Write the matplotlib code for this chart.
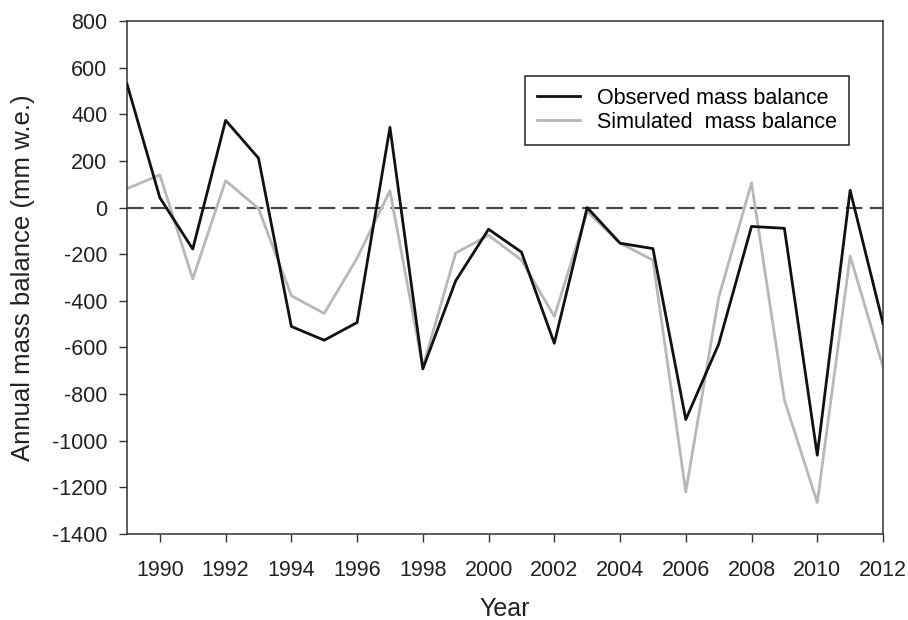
import matplotlib
matplotlib.use("Agg")
import matplotlib.pyplot as plt

years = list(range(1989, 2013))
observed = [530, 42, -178, 374, 212, -510, -569, -493, 344, -692, -314, -93,
            -191, -582, 0, -153, -176, -909, -586, -81, -89, -1062, 74, -497]
simulated = [81, 140, -306, 115, -4, -378, -454, -217, 72, -684, -195, -119,
             -225, -467, -17, -153, -225, -1219, -386, 106, -825, -1265, -208, -683]
xticks = list(range(1990, 2013, 2))
yticks = list(range(-1400, 801, 200))

plt.rcParams['font.family'] = ['Liberation Sans', 'DejaVu Sans']
plt.rcParams['axes.unicode_minus'] = False

fig = plt.figure(figsize=(9.08, 6.2), dpi=100)
ax = fig.add_axes([127/908, 1-534/620, (883-127)/908, (534-21)/620])

ax.axhline(0, color='#444444', lw=1.5, dashes=(8, 3.5), zorder=1)
ax.plot(years, simulated, color='#b8b8b8', lw=2.0, label='Simulated  mass balance', zorder=2)
ax.plot(years, observed, color='#111111', lw=2.0, label='Observed mass balance', zorder=3)

ax.set_xlim(1989, 2012)
ax.set_ylim(-1400, 800)
ax.set_xticks(xticks)
ax.set_xticklabels([str(t) for t in xticks])
ax.set_yticks(yticks)
ax.set_yticklabels([str(t) for t in yticks])
ax.tick_params(direction='out', length=6, width=1, labelsize=15.5, color='#333333', labelcolor='#222222')
ax.tick_params(axis='x', pad=13)
ax.tick_params(axis='y', pad=8)
for s in ax.spines.values():
    s.set_color('#333333')
    s.set_linewidth(1.1)

ax.set_xlabel('Year', fontsize=18, color='#222222', labelpad=11)
ax.set_ylabel('Annual mass balance (mm w.e.)', fontsize=18.5, color='#222222', labelpad=12)

h, l = ax.get_legend_handles_labels()
leg = ax.legend([h[1], h[0]], [l[1], l[0]], loc='upper right', bbox_to_anchor=(0.955, 0.893),
                fontsize=15.5, fancybox=False, edgecolor='#222222', framealpha=1,
                handlelength=2.0, handletextpad=0.8, borderpad=0.55, labelspacing=0.15,
                borderaxespad=0)
leg.get_frame().set_linewidth(1.1)

fig.savefig('out.png', dpi=100)
